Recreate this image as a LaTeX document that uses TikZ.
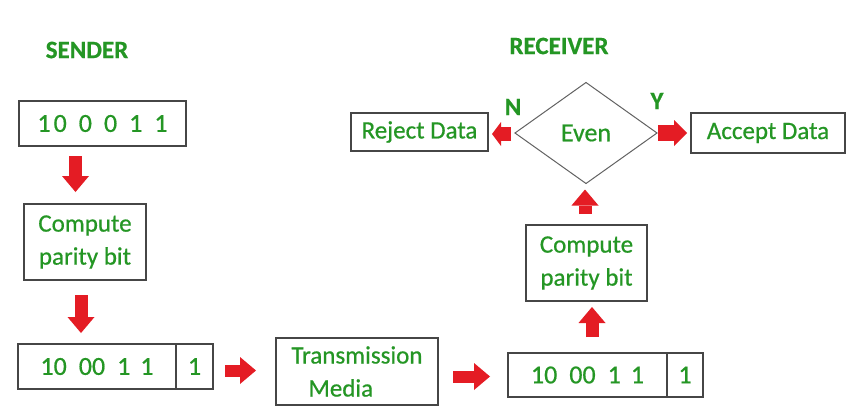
\documentclass[tikz,border=0pt]{standalone}
\usepackage{fontspec}
\setmainfont{Carlito}[FakeBold=0.6]
\usetikzlibrary{shapes.geometric,arrows.meta}
\definecolor{txtgreen}{RGB}{36,150,36}
\definecolor{arrred}{RGB}{228,28,36}
\definecolor{edgegray}{RGB}{70,70,70}
\begin{document}
\begin{tikzpicture}[x=1pt,y=-1pt,
  box/.style={draw=edgegray, line width=1.2pt, inner sep=0pt, outer sep=0pt, text=txtgreen,
    font=\fontsize{25}{33}\selectfont, align=center},
  digits/.style={box, font=\fontsize{26}{30}\selectfont},
  lbl/.style={text=txtgreen, font=\fontsize{25}{28}\selectfont\bfseries, inner sep=0pt},
  blockarrow/.style={draw=arrred, line width=13pt,
    -{Triangle[length=16pt 0 0, width=27pt 0 0, line width=0pt 0 0]}}]
\fill[white] (0,0) rectangle (865,415);
\useasboundingbox (0,0) rectangle (865,415);

% titles
\node[lbl] (sender) at (87,50) {SENDER};
\node[lbl] (receiver) at (559,46) {RECEIVER};

% sender side
\node[digits, minimum width=167pt, minimum height=45pt] (b1) at (102.5,123.5)
  {1\hspace{3pt}0\hspace{12pt}0\hspace{12pt}0\hspace{12pt}1\hspace{12pt}1};
\node[box, minimum width=122pt, minimum height=76pt] (b2) at (85,242) {Compute\\parity bit};
\node[digits, minimum width=158pt, minimum height=45pt] (b3a) at (97,366.5)
  {10\hspace{12pt}00\hspace{12pt}1\hspace{10pt}1};
\node[digits, minimum width=37pt, minimum height=45pt] (b3b) at (194.5,366.5) {1};

% transmission
\node[box, minimum width=162pt, minimum height=67pt, align=left] (b4) at (357,371.5)
  {Transmission\\\hspace{17pt}Media};

% receiver side
\node[digits, minimum width=159pt, minimum height=44pt] (b5a) at (587.5,375) {10\hspace{12pt}00\hspace{12pt}1\hspace{10pt}1};
\node[digits, minimum width=36pt, minimum height=44pt] (b5b) at (685,375) {1};
\node[box, minimum width=121pt, minimum height=76pt] (b6) at (586.5,263) {Compute\\parity bit};
\node[diamond, draw=edgegray!85, line width=1pt, minimum width=142pt, minimum height=101pt,
  inner sep=0pt, outer sep=0pt, text=txtgreen, font=\fontsize{26}{30}\selectfont] (d) at (586,133) {Even};
\node[box, minimum width=137pt, minimum height=38pt] (rej) at (419.5,132) {Reject Data};
\node[box, minimum width=154pt, minimum height=40pt] (acc) at (768,133) {Accept Data};
\node[lbl] (nlab) at (513,107) {N};
\node[lbl] (ylab) at (657,101) {Y};

% arrow columns / rows
\coordinate (x1) at (75.5,0);
\coordinate (x2) at (81,0);
\coordinate (y3) at (0,370.5);
\coordinate (y4) at (0,376.5);
\coordinate (x5) at (592,0);
\coordinate (x6) at (585,0);
\coordinate (y7) at (0,134);
\coordinate (y8) at (0,133);

\draw[blockarrow, shorten <=10pt, shorten >=12pt] (b1.south -| x1) -- (b2.north -| x1);
\draw[blockarrow, shorten <=15pt, shorten >=11pt] (b2.south -| x2) -- (b3a.north -| x2);
\draw[blockarrow, line width=12pt, shorten <=12pt, shorten >=20pt] (b3b.east |- y3) -- (b4.west |- y3);
\draw[blockarrow, line width=12pt, shorten <=15pt, shorten >=18pt] (b4.east |- y4) -- (b5a.west |- y4);
\draw[blockarrow, shorten <=16pt, shorten >=6pt] (b5a.north -| x5) -- (b6.south -| x5);
\draw[blockarrow, shorten <=11pt, shorten >=6pt] (b6.north -| x6) -- (d.south -| x6);
\draw[draw=arrred, line width=14pt, shorten <=4pt, shorten >=4pt,
  -{Triangle[length=9pt 0 0, width=24pt 0 0, line width=0pt 0 0]}] (d.west |- y7) -- (rej.east |- y7);
\draw[draw=arrred, line width=16pt, shorten <=1pt, shorten >=4pt,
  -{Triangle[length=13pt 0 0, width=26pt 0 0, line width=0pt 0 0]}] (d.east |- y8) -- (acc.west |- y8);
\end{tikzpicture}
\end{document}
